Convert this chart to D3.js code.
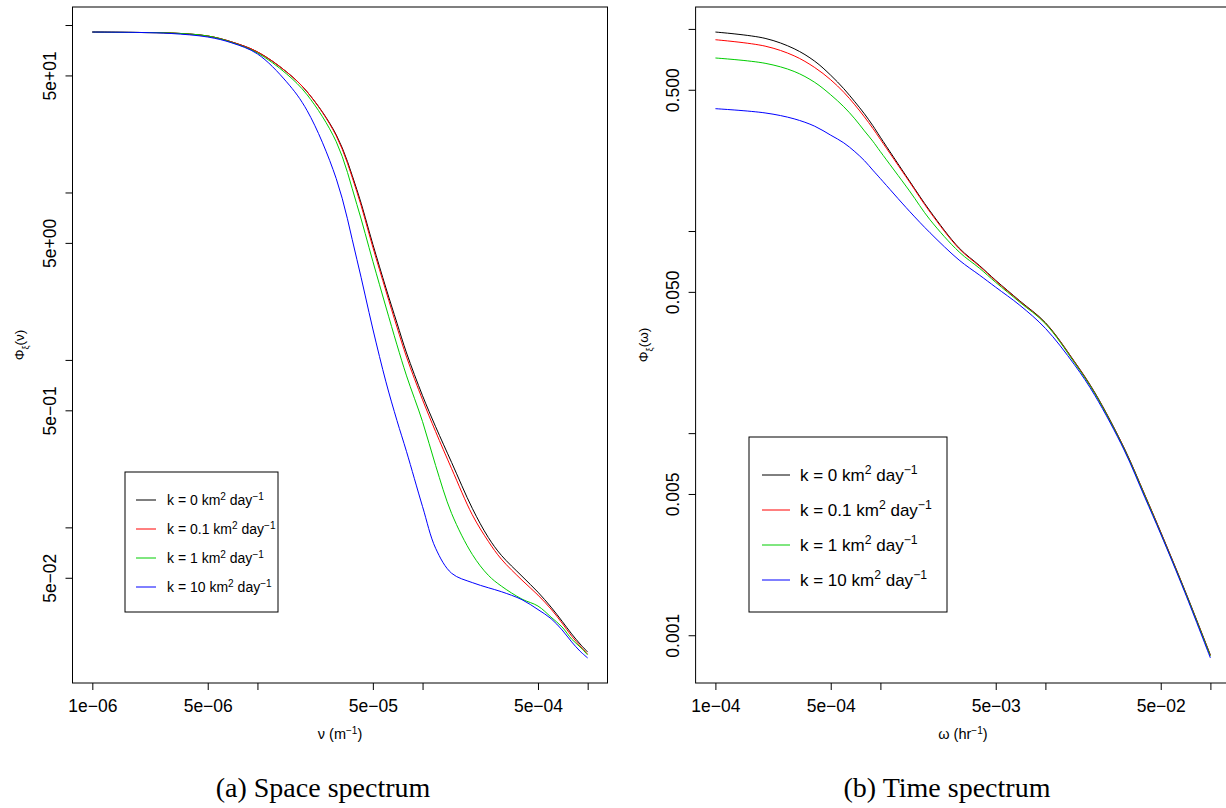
<!DOCTYPE html>
<html lang="en">
<head>
<meta charset="UTF-8" />
<title>Space and time spectrum</title>
<script src="https://d3js.org/d3.v7.min.js"></script>
<style>
  body { margin: 0; background: #fff; }
  svg { display: block; font-family: "Liberation Sans", Arial, sans-serif; }
  .caption { font-family: "Liberation Serif", "Times New Roman", serif; font-size: 28px; }
</style>
</head>
<body>
<div id="chart"></div>
<script>
// (a) space spectrum, wavenumber nu in m^-1
const spaceNu = [1e-6, 2e-6, 3e-6, 5e-6, 7e-6, 1e-5, 1.5e-5, 2e-5, 3e-5, 4e-5, 5e-5, 6e-5, 7e-5, 8e-5,
  1e-4, 1.2e-4, 1.5e-4, 2e-4, 2.5e-4, 3e-4, 4e-4, 5e-4, 6e-4, 7e-4, 8e-4, 9e-4, 1e-3];
const spaceK0 = [90.8, 90.2, 89.6, 86.0, 79.2, 69.1, 52.5, 39.9, 22.1, 10.4, 4.90, 2.69, 1.66, 1.10,
  0.611, 0.399, 0.244, 0.130, 0.0871, 0.0681, 0.0511, 0.0410, 0.0334, 0.0275, 0.0231, 0.0201, 0.0180];
const spaceK01 = [90.8, 90.2, 89.6, 86.0, 79.2, 69.1, 52.5, 39.9, 21.8, 10.1, 4.71, 2.58, 1.57, 1.04,
  0.578, 0.373, 0.224, 0.119, 0.0826, 0.0646, 0.0484, 0.0394, 0.0325, 0.0268, 0.0224, 0.0196, 0.0175];
const spaceK1 = [90.8, 90.2, 89.6, 86.0, 78.7, 68.1, 51.1, 38.3, 20.1, 8.48, 3.88, 2.07, 1.23, 0.803,
  0.428, 0.234, 0.121, 0.0690, 0.0518, 0.0446, 0.0373, 0.0339, 0.0291, 0.0254, 0.0215, 0.0193, 0.0173];
const spaceK10 = [90.8, 90.2, 89.0, 84.8, 78.2, 67.2, 45.8, 30.8, 12.1, 3.99, 1.53, 0.740, 0.434, 0.283,
  0.133, 0.0750, 0.0532, 0.0468, 0.0436, 0.0413, 0.0370, 0.0323, 0.0285, 0.0244, 0.0207, 0.0182, 0.0166];

// (b) time spectrum, frequency omega in hr^-1
const timeOmega = [1e-4, 2e-4, 3e-4, 4e-4, 5e-4, 6e-4, 7e-4, 8e-4, 9e-4, 1e-3, 1.5e-3, 2e-3, 3e-3, 4e-3,
  5e-3, 7e-3, 1e-2, 1.5e-2, 2e-2, 3e-2, 4e-2, 5e-2, 7e-2, 1e-1];
const timeK0 = [0.965, 0.898, 0.798, 0.692, 0.590, 0.506, 0.436, 0.380, 0.332, 0.291, 0.177, 0.1255, 0.0824, 0.0673,
  0.0570, 0.0451, 0.0352, 0.0226, 0.0158, 0.00845, 0.00496, 0.00324, 0.00167, 0.000798];
const timeK01 = [0.884, 0.822, 0.736, 0.644, 0.560, 0.486, 0.421, 0.367, 0.322, 0.284, 0.175, 0.124, 0.0817, 0.0668,
  0.0566, 0.0448, 0.0350, 0.0225, 0.0157, 0.00841, 0.00494, 0.00323, 0.00166, 0.000794];
const timeK1 = [0.718, 0.676, 0.616, 0.544, 0.472, 0.412, 0.359, 0.313, 0.278, 0.247, 0.158, 0.1136, 0.0788, 0.0653,
  0.0557, 0.0444, 0.0348, 0.0223, 0.0156, 0.00835, 0.00490, 0.00320, 0.00165, 0.000788];
const timeK10 = [0.403, 0.384, 0.359, 0.330, 0.298, 0.273, 0.247, 0.223, 0.200, 0.1817, 0.1253, 0.0980, 0.0718, 0.0604,
  0.0527, 0.0429, 0.0330, 0.0218, 0.0153, 0.00825, 0.00482, 0.00317, 0.00163, 0.000772];

const kLabels = ["0", "0.1", "1", "10"];
const kColors = ["#000000", "#FF0000", "#00CD00", "#0000FF"];

const spaceXTicks = [1e-6, 5e-6, 1e-5, 5e-5, 1e-4, 5e-4, 1e-3];
const spaceXLabels = ["1e\u221206", "5e\u221206", "", "5e\u221205", "", "5e\u221204", ""];
const spaceYTicks = [100, 50, 10, 5, 1, 0.5, 0.1, 0.05];
const spaceYLabels = ["", "5e+01", "", "5e+00", "", "5e\u221201", "", "5e\u221202"];

const timeXTicks = [1e-4, 5e-4, 1e-3, 5e-3, 1e-2, 5e-2, 1e-1];
const timeXLabels = ["1e\u221204", "5e\u221204", "", "5e\u221203", "", "5e\u221202", ""];
const timeYTicks = [1, 0.5, 0.1, 0.05, 0.01, 0.005, 0.001];
const timeYLabels = ["", "0.500", "", "0.050", "", "0.005", "0.001"];

const W = 1226, H = 808;
const svg = d3.select("#chart").append("svg").attr("width", W).attr("height", H);

// R style range: data extent widened by 4% on log axes
function padLog(vals) {
  const lo = Math.log10(d3.min(vals)), hi = Math.log10(d3.max(vals));
  const p = (hi - lo) * 0.04;
  return [Math.pow(10, lo - p), Math.pow(10, hi + p)];
}

function drawPanel(cfg) {
  const g = svg.append("g");
  const allY = cfg.series.flat();
  const x = d3.scaleLog().domain(padLog(cfg.xs)).range([cfg.box.x0, cfg.box.x1]);
  const y = d3.scaleLog().domain(padLog(allY)).range([cfg.box.y1, cfg.box.y0]);

  // curves
  const line = d3.line()
    .x(d => x(d[0]))
    .y(d => y(d[1]))
    .curve(d3.curveCatmullRom.alpha(0.5));
  cfg.series.forEach((vals, i) => {
    g.append("path")
      .datum(cfg.xs.map((v, j) => [v, vals[j]]))
      .attr("fill", "none")
      .attr("stroke", kColors[i])
      .attr("stroke-width", 1)
      .attr("d", line);
  });

  // box
  g.append("rect")
    .attr("x", cfg.box.x0).attr("y", cfg.box.y0)
    .attr("width", cfg.box.x1 - cfg.box.x0).attr("height", cfg.box.y1 - cfg.box.y0)
    .attr("fill", "none").attr("stroke", "#000").attr("stroke-width", 1);

  // x axis
  const xAxis = d3.axisBottom(x).tickValues(cfg.xTicks).tickSizeOuter(0).tickSizeInner(7)
    .tickFormat((d, i) => cfg.xLabels[i]);
  const xg = g.append("g").attr("transform", `translate(0,${cfg.box.y1})`).call(xAxis);
  xg.select(".domain").remove();
  xg.selectAll("text").attr("font-size", "17.5px").attr("font-family", "Liberation Sans, Arial, sans-serif")
    .attr("fill", "#000").attr("y", 0).attr("dy", "29px");

  // y axis
  const yAxis = d3.axisLeft(y).tickValues(cfg.yTicks).tickSizeOuter(0).tickSizeInner(7)
    .tickFormat((d, i) => cfg.yLabels[i]);
  const yg = g.append("g").attr("transform", `translate(${cfg.box.x0},0)`).call(yAxis);
  yg.select(".domain").remove();
  yg.selectAll("text")
    .attr("font-size", "17.5px").attr("font-family", "Liberation Sans, Arial, sans-serif").attr("fill", "#000")
    .attr("x", null).attr("dy", null)
    .attr("transform", "translate(-16.5,0) rotate(-90)")
    .attr("text-anchor", "middle");

  // axis titles
  const xt = g.append("text")
    .attr("x", (cfg.box.x0 + cfg.box.x1) / 2).attr("y", cfg.box.y1 + 56)
    .attr("text-anchor", "middle").attr("font-size", "14.5px");
  xt.append("tspan").text(cfg.xVar + "  (" + cfg.xUnit);
  xt.append("tspan").attr("baseline-shift", "super").attr("font-size", "10px").text("\u22121");
  xt.append("tspan").text(")");

  const yc = (cfg.box.y0 + cfg.box.y1) / 2;
  const yt = g.append("text")
    .attr("transform", `translate(${cfg.yTitleX},${yc}) rotate(-90)`)
    .attr("text-anchor", "middle").attr("font-size", "13.5px");
  yt.append("tspan").text("\u03A6");
  yt.append("tspan").attr("baseline-shift", "sub").attr("font-size", "9px").text("\u03BE");
  yt.append("tspan").text("(" + cfg.xVar + ")");

  // legend
  const lg = cfg.legend;
  g.append("rect")
    .attr("x", lg.x0).attr("y", lg.y0).attr("width", lg.x1 - lg.x0).attr("height", lg.y1 - lg.y0)
    .attr("fill", "#fff").attr("stroke", "#000").attr("stroke-width", 1);
  kLabels.forEach((k, i) => {
    const ry = lg.row0 + i * lg.step;
    g.append("line")
      .attr("x1", lg.lineX0).attr("x2", lg.lineX1).attr("y1", ry).attr("y2", ry)
      .attr("stroke", kColors[i]).attr("stroke-width", 1);
    const t = g.append("text")
      .attr("x", lg.textX).attr("y", ry).attr("dy", "0.35em")
      .attr("font-size", lg.font + "px");
    t.append("tspan").text("k = " + k + " km");
    t.append("tspan").attr("baseline-shift", "super").attr("font-size", (lg.font * 0.72) + "px").text("2");
    t.append("tspan").text(" day");
    t.append("tspan").attr("baseline-shift", "super").attr("font-size", (lg.font * 0.72) + "px").text("\u22121");
  });

  // caption
  svg.append("text").attr("class", "caption")
    .attr("x", cfg.captionX).attr("y", 797).attr("text-anchor", "middle")
    .text(cfg.caption);
}

drawPanel({
  xs: spaceNu,
  series: [spaceK0, spaceK01, spaceK1, spaceK10],
  box: { x0: 72.5, x1: 607.5, y0: 7, y1: 683 },
  xTicks: spaceXTicks, xLabels: spaceXLabels,
  yTicks: spaceYTicks, yLabels: spaceYLabels,
  xVar: "\u03BD", xUnit: "m",
  yTitleX: 24,
  legend: { x0: 125, x1: 278, y0: 472, y1: 612, row0: 500, step: 29, lineX0: 136, lineX1: 156, textX: 167, font: 14 },
  caption: "(a) Space spectrum", captionX: 323
});

drawPanel({
  xs: timeOmega,
  series: [timeK0, timeK01, timeK1, timeK10],
  box: { x0: 695.6, x1: 1230.2, y0: 7, y1: 683 },
  xTicks: timeXTicks, xLabels: timeXLabels,
  yTicks: timeYTicks, yLabels: timeYLabels,
  xVar: "\u03C9", xUnit: "hr",
  yTitleX: 648,
  legend: { x0: 749, x1: 947, y0: 437, y1: 612, row0: 475, step: 35, lineX0: 762, lineX1: 790, textX: 800, font: 17 },
  caption: "(b) Time spectrum", captionX: 947
});
</script>
</body>
</html>
